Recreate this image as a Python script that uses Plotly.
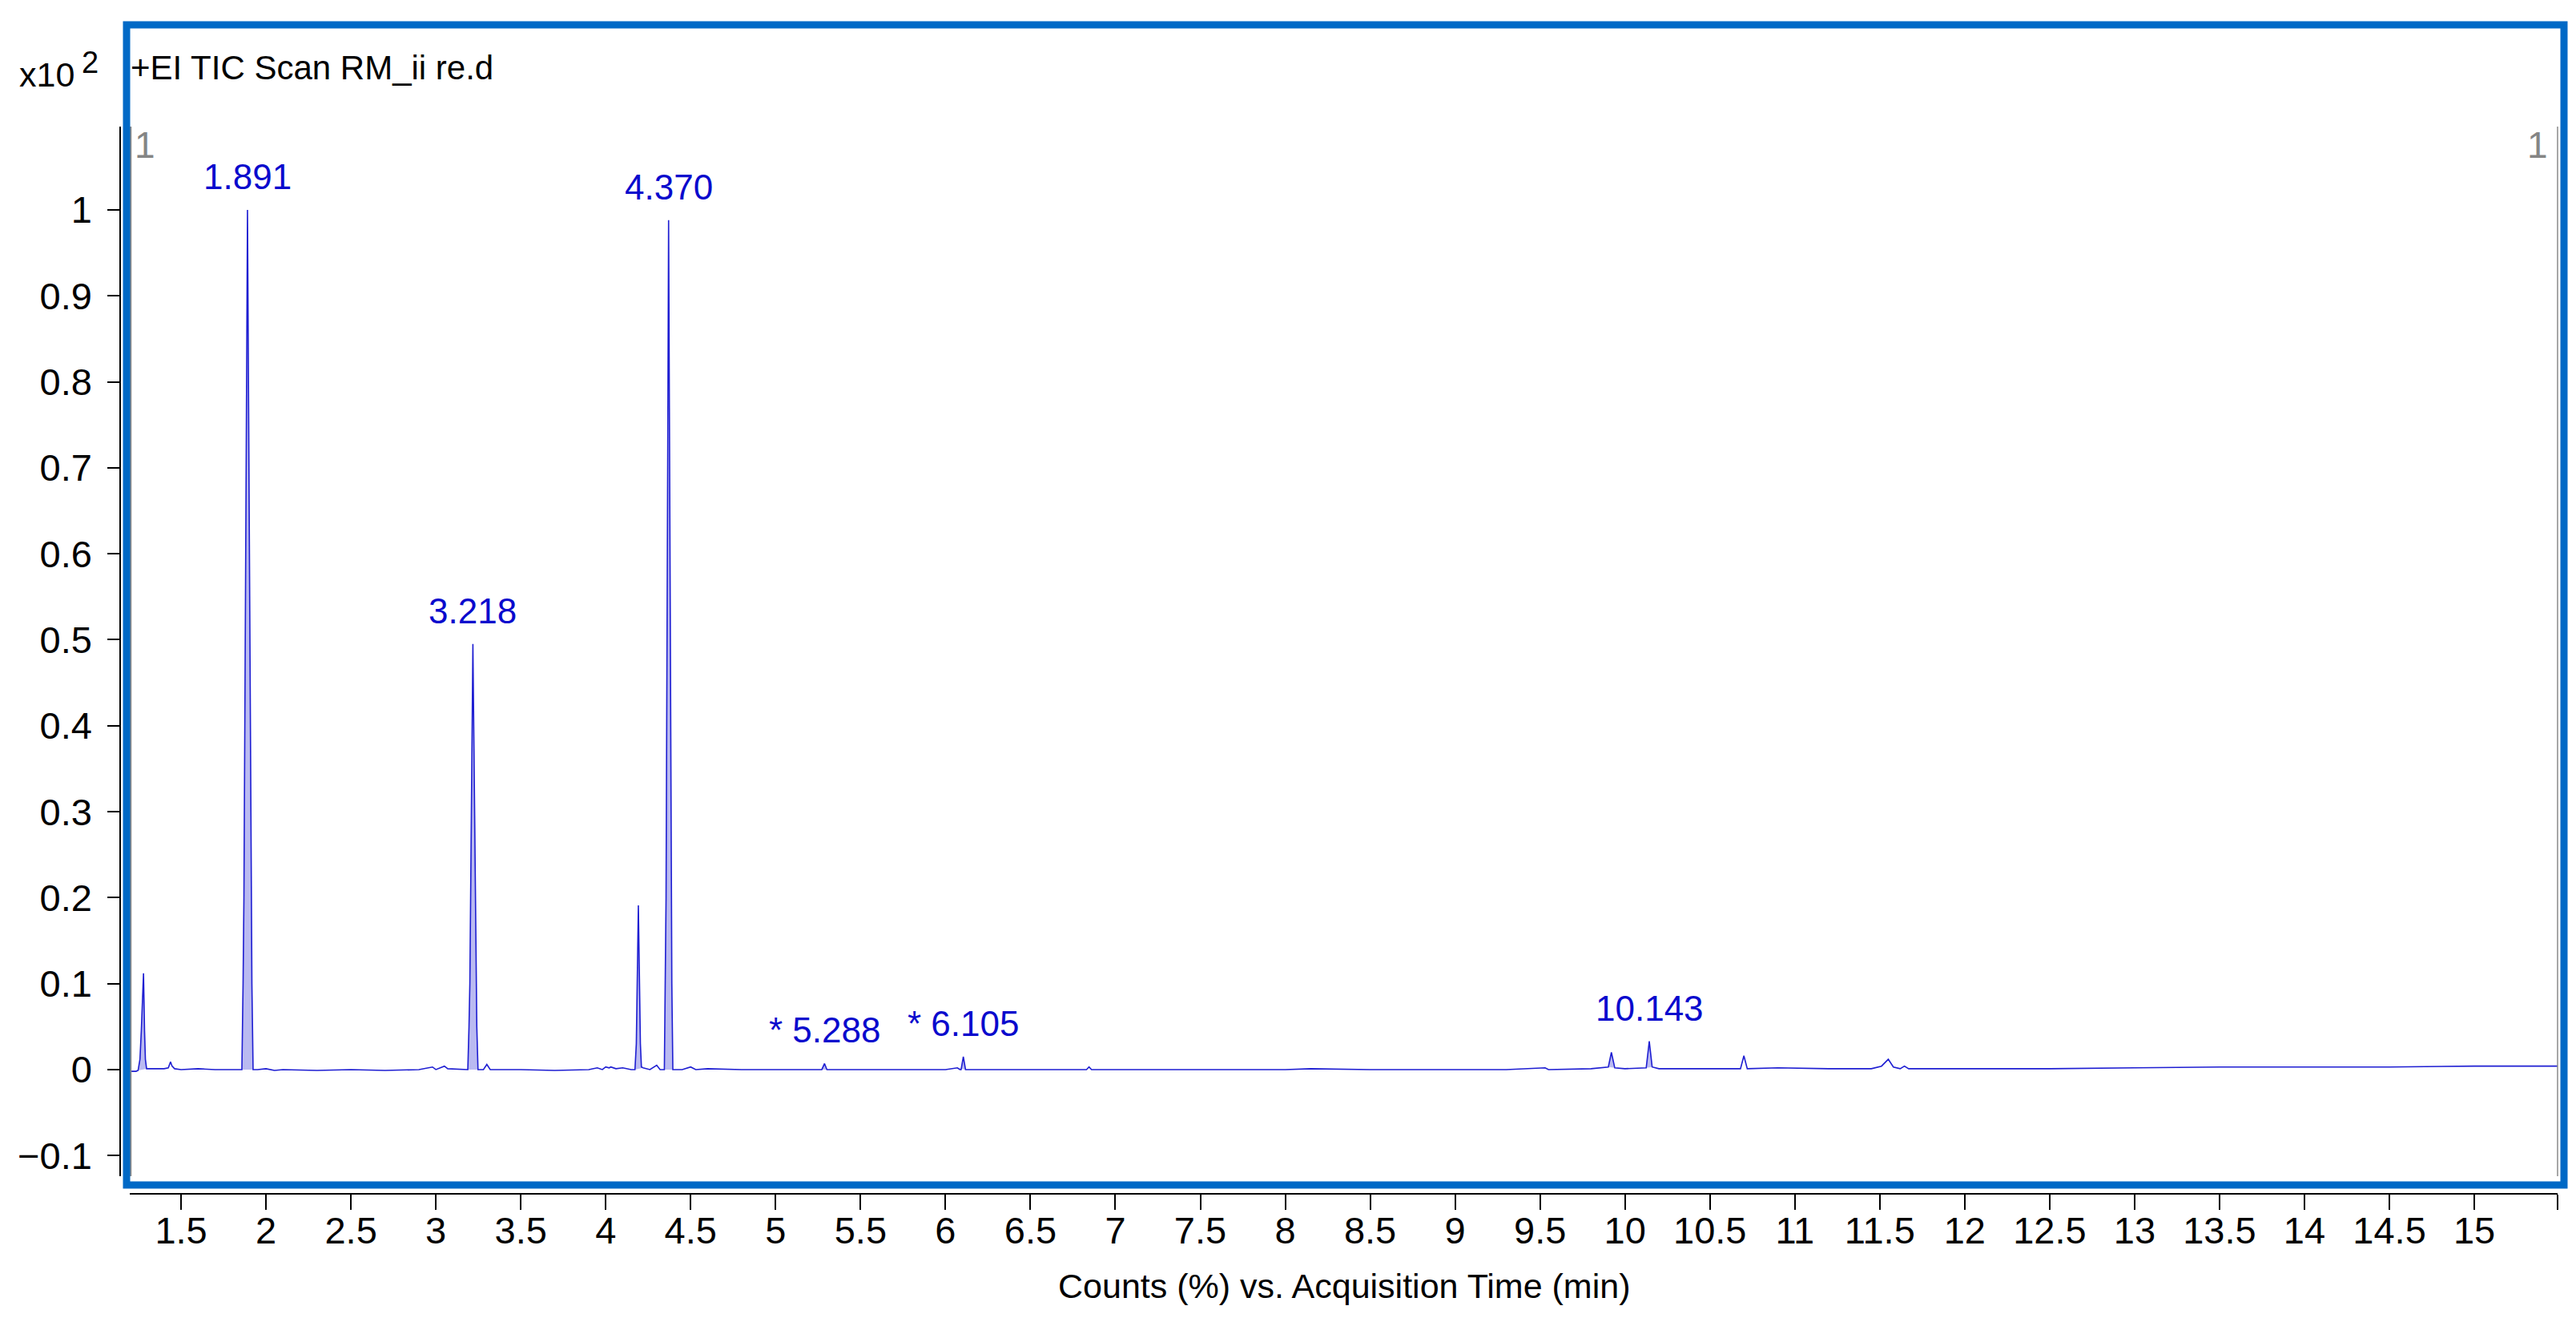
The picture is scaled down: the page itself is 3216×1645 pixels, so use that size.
import plotly.graph_objects as go

# ---------------- data ----------------
# retention time (min) and counts (x10^2 %)
time = [
    1.200, 1.235, 1.247, 1.258, 1.266, 1.279, 1.285, 1.290, 1.297,
    1.33, 1.40, 1.425, 1.438, 1.447, 1.452, 1.462,
    1.50, 1.60, 1.70, 1.80,
    1.858, 1.865, 1.870, 1.891, 1.912, 1.917, 1.924,
    1.95, 2.00, 2.05, 2.10, 2.30, 2.50, 2.70, 2.90, 2.98, 3.00, 3.05, 3.07, 3.15,
    3.188, 3.195, 3.200, 3.218, 3.236, 3.241, 3.248,
    3.28, 3.30, 3.32, 3.50, 3.70, 3.90, 3.95, 3.98, 4.00, 4.02, 4.03, 4.06, 4.10, 4.15,
    4.172, 4.180, 4.192, 4.204, 4.210, 4.22, 4.26, 4.30, 4.32,
    4.345, 4.351, 4.355, 4.370, 4.385, 4.389, 4.395,
    4.45, 4.50, 4.53, 4.60, 4.80, 5.00, 5.20,
    5.272, 5.288, 5.302,
    5.50, 5.80, 6.00, 6.07, 6.085,
    6.092, 6.105, 6.118,
    6.30, 6.60, 6.83, 6.845, 6.86, 7.20, 7.60, 8.00, 8.15, 8.50, 9.00, 9.30, 9.53, 9.55, 9.80, 9.88,
    9.902, 9.920, 9.940,
    10.00, 10.10,
    10.125, 10.143, 10.160,
    10.20, 10.50, 10.68, 10.700, 10.72, 10.90, 11.20, 11.45, 11.51, 11.550, 11.58, 11.62, 11.645, 11.67,
    12.00, 12.50, 13.00, 13.50, 14.00, 14.50, 15.00, 15.49,
]
counts = [
    -0.002, -0.002, -0.001, 0.012, 0.045, 0.112, 0.045, 0.012, 0.001,
    0.001, 0.001, 0.002, 0.009, 0.004, 0.003, 0.001,
    0.000, 0.001, 0.000, 0.000,
    0.000, 0.100, 0.200, 1.000, 0.200, 0.100, 0.000,
    0.000, 0.001, -0.001, 0.000, -0.001, 0.000, -0.001, 0.000, 0.003, 0.000, 0.004, 0.001, 0.000,
    0.000, 0.050, 0.100, 0.495, 0.100, 0.050, 0.000,
    0.000, 0.006, 0.000, 0.000, -0.001, 0.000, 0.002, 0.000, 0.003, 0.002, 0.003, 0.001, 0.002, 0.000,
    0.000, 0.030, 0.191, 0.030, 0.003, 0.002, 0.000, 0.005, 0.000,
    0.000, 0.100, 0.200, 0.988, 0.200, 0.100, 0.000,
    0.000, 0.003, 0.000, 0.001, 0.000, 0.000, 0.000,
    0.000, 0.007, 0.000,
    0.000, 0.000, 0.000, 0.002, 0.000,
    0.000, 0.015, 0.000,
    0.000, 0.000, 0.000, 0.003, 0.000, 0.000, 0.000, 0.000, 0.001, 0.000, 0.000, 0.000, 0.002, 0.000, 0.001, 0.003,
    0.003, 0.020, 0.002,
    0.001, 0.002,
    0.002, 0.033, 0.003,
    0.001, 0.001, 0.001, 0.016, 0.001, 0.002, 0.001, 0.001, 0.004, 0.012, 0.003, 0.001, 0.004, 0.001,
    0.001, 0.001, 0.002, 0.003, 0.003, 0.003, 0.004, 0.004,
]

# peaks drawn with a shaded area
filled_rt = [1.279, 1.891, 3.218, 4.192, 4.370, 5.288, 6.105, 9.920, 10.143]

# labelled peaks
label_rt = [1.891, 3.218, 4.370, 5.288, 6.105, 10.143]
label_text = ["1.891", "3.218", "4.370", "* 5.288", "* 6.105", "10.143"]

# axis ticks
x_tick_vals = [1.5, 2, 2.5, 3, 3.5, 4, 4.5, 5, 5.5, 6, 6.5, 7, 7.5, 8, 8.5, 9, 9.5,
               10, 10.5, 11, 11.5, 12, 12.5, 13, 13.5, 14, 14.5, 15]
x_tick_text = ["1.5", "2", "2.5", "3", "3.5", "4", "4.5", "5", "5.5", "6", "6.5", "7",
               "7.5", "8", "8.5", "9", "9.5", "10", "10.5", "11", "11.5", "12", "12.5",
               "13", "13.5", "14", "14.5", "15"]
y_tick_vals = [-0.1, 0, 0.1, 0.2, 0.3, 0.4, 0.5, 0.6, 0.7, 0.8, 0.9, 1]
y_tick_text = ["\u22120.1", "0", "0.1", "0.2", "0.3", "0.4", "0.5", "0.6", "0.7", "0.8", "0.9", "1"]

x_min, x_max = 1.198, 15.49
y_min, y_max = -0.124, 1.0969

title_text = "+EI TIC Scan RM_ii re.d"
x_title = "Counts (%) vs. Acquisition Time (min)"

# ---------------- figure ----------------
W, H = 3216, 1645
FONT = "Liberation Sans Narrow, Arial Narrow, Liberation Sans, Arial, sans-serif"
LINE_BLUE = "#1E1ED2"
FILL_BLUE = "rgba(110,110,225,0.48)"
LABEL_BLUE = "#0A0ACD"
FRAME_BLUE = "#0069C6"


def px(x):
    return x / W


def py(y):
    return 1 - y / H


fig = go.Figure()

# shaded peak areas
fx, fy = [], []
for rt in filled_rt:
    pts = [(t, c) for t, c in zip(time, counts) if abs(t - rt) <= 0.036]
    fx += [p[0] for p in pts] + [None]
    fy += [p[1] for p in pts] + [None]
fig.add_trace(go.Scatter(x=fx, y=fy, mode="lines", fill="toself", fillcolor=FILL_BLUE,
                         line=dict(width=0, color=FILL_BLUE), hoverinfo="skip",
                         showlegend=False))

# chromatogram trace
fig.add_trace(go.Scatter(x=time, y=counts, mode="lines",
                         line=dict(color=LINE_BLUE, width=1.6),
                         showlegend=False))

# peak labels
annotations = []
for rt, txt in zip(label_rt, label_text):
    apex = max(c for t, c in zip(time, counts) if abs(t - rt) < 0.01)
    annotations.append(dict(x=rt, y=apex + 0.014, xref="x", yref="y", text=txt,
                            showarrow=False, xanchor="center", yanchor="bottom",
                            font=dict(family=FONT, size=44, color=LABEL_BLUE)))

# title, exponent, x title, grey markers
annotations += [
    dict(x=px(153), y=py(76), xref="paper", yref="paper", text=title_text,
         showarrow=False, xanchor="left", yanchor="middle",
         font=dict(family=FONT, size=42, color="black")),
    dict(x=px(14), y=py(85), xref="paper", yref="paper", text="x10",
         showarrow=False, xanchor="left", yanchor="middle",
         font=dict(family=FONT, size=43, color="black")),
    dict(x=px(92), y=py(70), xref="paper", yref="paper", text="2",
         showarrow=False, xanchor="left", yanchor="middle",
         font=dict(family=FONT, size=38, color="black")),
    dict(x=px(1670), y=py(1597), xref="paper", yref="paper", text=x_title,
         showarrow=False, xanchor="center", yanchor="middle",
         font=dict(family=FONT, size=43, color="black")),
    dict(x=px(158), y=py(173), xref="paper", yref="paper", text="1",
         showarrow=False, xanchor="left", yanchor="middle",
         font=dict(family=FONT, size=46, color="#858585")),
    dict(x=px(3175), y=py(173), xref="paper", yref="paper", text="1",
         showarrow=False, xanchor="right", yanchor="middle",
         font=dict(family=FONT, size=46, color="#858585")),
]

shapes = [
    # grey plot edges
    dict(type="line", xref="paper", yref="paper", x0=px(155), x1=px(155),
         y0=py(150), y1=py(1460), line=dict(color="#8A8A8A", width=2.5)),
    dict(type="line", xref="paper", yref="paper", x0=px(3185), x1=px(3185),
         y0=py(150), y1=py(1460), line=dict(color="#8A8A8A", width=1.5)),
    # blue frame
    dict(type="rect", xref="paper", yref="paper", x0=px(150), x1=px(3193),
         y0=py(1471), y1=py(23), line=dict(color=FRAME_BLUE, width=9),
         fillcolor="rgba(0,0,0,0)"),
]

fig.update_layout(
    width=W, height=H, autosize=False,
    margin=dict(l=0, r=0, t=0, b=0),
    paper_bgcolor="white", plot_bgcolor="white",
    font=dict(family=FONT, size=46, color="black"),
    showlegend=False,
    annotations=annotations,
    shapes=shapes,
    xaxis=dict(
        domain=[px(154), px(3185)], range=[x_min, x_max],
        anchor="free", position=py(1482),
        tickmode="array", tickvals=x_tick_vals + [x_max], ticktext=x_tick_text + [""],
        ticks="outside", ticklen=19, tickwidth=1.5, tickcolor="black",
        showline=True, linecolor="black", linewidth=1.5,
        showgrid=False, zeroline=False,
        tickfont=dict(family=FONT, size=47, color="black"),
        ticklabelstandoff=-14,
    ),
    yaxis=dict(
        domain=[py(1460), py(150)], range=[y_min, y_max],
        anchor="free", position=px(142), side="left",
        tickmode="array", tickvals=y_tick_vals, ticktext=y_tick_text,
        ticks="outside", ticklen=15, tickwidth=1.5, tickcolor="black",
        showline=True, linecolor="black", linewidth=1.5,
        showgrid=False, zeroline=False,
        tickfont=dict(family=FONT, size=47, color="black"),
        ticklabelstandoff=10,
    ),
)

fig.write_html("out.html")
